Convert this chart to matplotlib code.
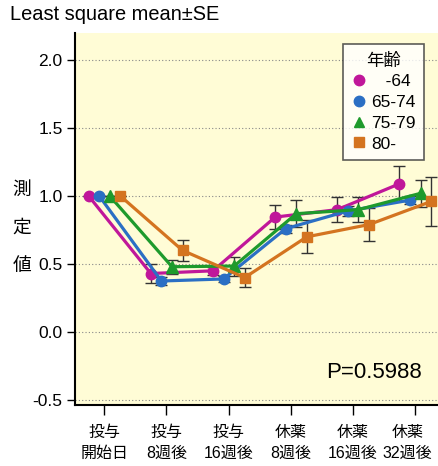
import matplotlib
matplotlib.use("Agg")
import numpy as np
import matplotlib.pyplot as plt
from matplotlib.lines import Line2D

plt.rcParams['font.family'] = ['Liberation Sans', 'Noto Sans CJK JP', 'DejaVu Sans']

# --- data ---
timepoints = ["投与\n開始日", "投与\n8週後", "投与\n16週後", "休薬\n8週後", "休薬\n16週後", "休薬\n32週後"]
groups = ["   -64", "65-74", "75-79", "80-"]

mean_64 = [1.00, 0.43, 0.45, 0.845, 0.90, 1.09]
se_64 = [0.00, 0.07, 0.03, 0.09, 0.09, 0.13]
mean_65_74 = [1.00, 0.375, 0.39, 0.76, 0.89, 0.97]
se_65_74 = [0.00, 0.03, 0.02, 0.03, 0.04, 0.03]
mean_75_79 = [1.00, 0.48, 0.485, 0.87, 0.90, 1.02]
se_75_79 = [0.00, 0.05, 0.07, 0.10, 0.09, 0.10]
mean_80 = [1.00, 0.60, 0.40, 0.70, 0.79, 0.96]
se_80 = [0.00, 0.08, 0.07, 0.12, 0.12, 0.18]

means = [mean_64, mean_65_74, mean_75_79, mean_80]
ses = [se_64, se_65_74, se_75_79, se_80]
colors = ["#c0179a", "#2b6fc4", "#1e9a2c", "#d47420"]
markers = ["o", "o", "^", "s"]
offsets = [-0.25, -0.08, 0.09, 0.26]

TICK_LEN = 7
TICK_PAD = 7.5

fig = plt.figure(figsize=(4.38, 4.66), dpi=100)
ax = fig.add_axes([75 / 438, 61 / 466, 1 - 75 / 438, (405 - 33) / 466])
ax.set_facecolor("#fffcd6")

x = np.arange(len(timepoints))
for m, s, c, mk, off in zip(means, ses, colors, markers, offsets):
    xs = x + off
    ax.errorbar(xs, m, yerr=s, fmt="none", ecolor="#333333", elinewidth=1.0,
                capsize=4, capthick=1.0, zorder=2)
    ax.plot(xs, m, color=c, lw=2.3, marker=mk, ms=7.5 if mk != "^" else 8,
            markeredgecolor=c, zorder=3)

ax.set_xlim(-0.47, 5.37)
ax.set_ylim(-0.537, 2.199)
ax.set_yticks([-0.5, 0.0, 0.5, 1.0, 1.5, 2.0])
ax.set_yticklabels(["-0.5", "0.0", "0.5", "1.0", "1.5", "2.0"], fontsize=12.5)
ax.set_xticks(x)
# the last label is drawn separately, nudged left so it stays inside the figure
ax.set_xticklabels(timepoints[:-1] + [""], fontsize=11.5, linespacing=1.5)
ax.annotate(timepoints[-1], xy=(x[-1], 0), xycoords=("data", "axes fraction"),
            xytext=(-5.5, -(TICK_LEN + TICK_PAD)), textcoords="offset points",
            ha="center", va="top", fontsize=11.5, linespacing=1.5)
ax.yaxis.grid(True, linestyle=(0, (1, 2)), color="#888888", lw=0.8)
ax.set_axisbelow(True)

for side in ["top", "right"]:
    ax.spines[side].set_visible(False)
ax.spines["left"].set_linewidth(1.5)
ax.spines["bottom"].set_linewidth(1.5)
ax.tick_params(axis="y", direction="out", length=6, width=1, pad=3)
ax.tick_params(axis="x", direction="out", length=TICK_LEN, width=1, pad=TICK_PAD)

# legend with marker-only handles
handles = [Line2D([], [], color=c, marker=mk, ls="none", ms=7.5 if mk == "o" else 7)
           for c, mk in zip(colors, markers)]
leg = ax.legend(handles, groups, title="年齢", loc="upper left",
                bbox_to_anchor=(343 / 438, 1 - 44 / 466), bbox_transform=fig.transFigure,
                fontsize=12.5, title_fontsize=12.5, frameon=True, fancybox=False,
                handlelength=0.8, handletextpad=0.3, borderpad=0.5, labelspacing=0.32,
                borderaxespad=0)
leg.get_frame().set_edgecolor("#333333")
leg.get_frame().set_linewidth(1.2)

fig.text(374 / 438, 1 - 372 / 466, "P=0.5988", fontsize=16, ha="center", va="center")

fig.text(10 / 438, 1 - 15 / 466, "Least square mean±SE", fontsize=14.4, ha="left", va="center")
for i, ch in enumerate("測定値"):
    fig.text(22 / 438, 1 - (190 + 38 * i) / 466, ch, fontsize=13.5, ha="center", va="center")

fig.savefig("out.png", dpi=100)
